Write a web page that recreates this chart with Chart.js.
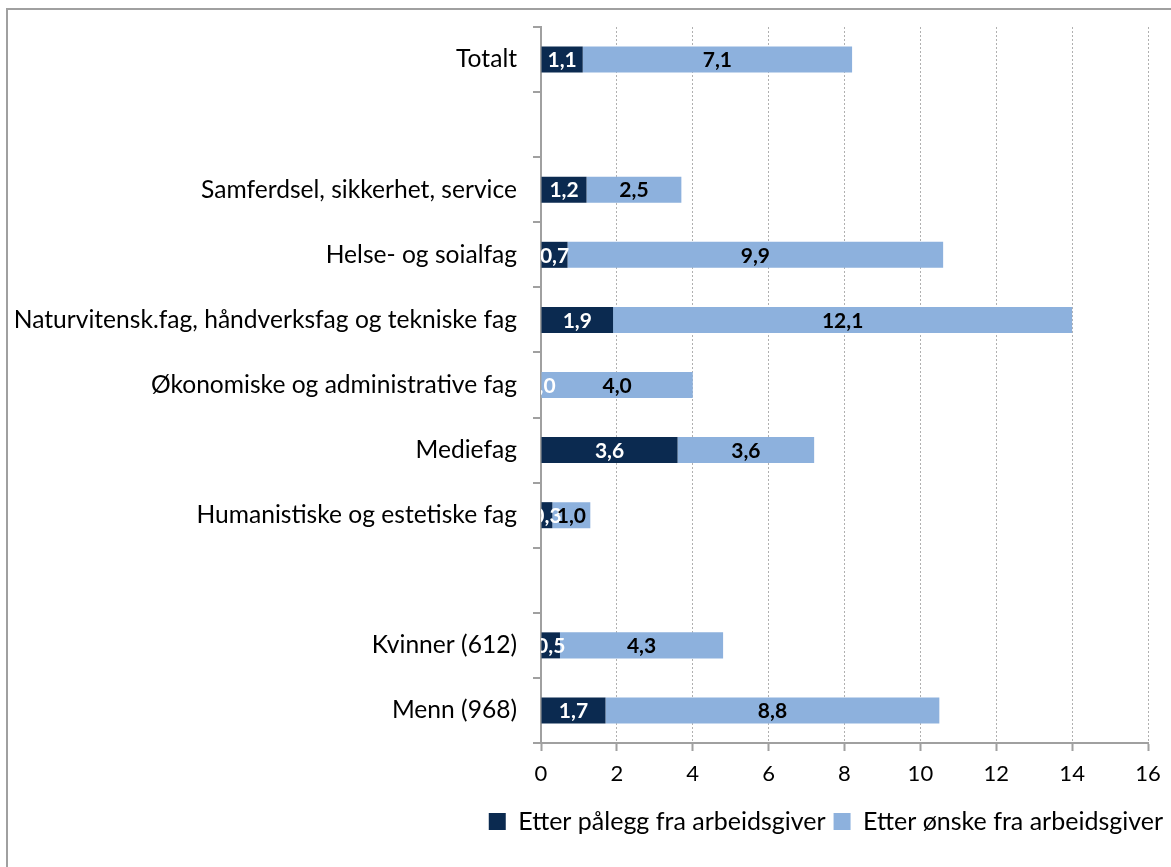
<!DOCTYPE html>
<html>
<head>
<meta charset="utf-8">
<script src="https://cdn.jsdelivr.net/npm/chart.js@4"></script>
<style>
  body { margin: 0; overflow: hidden; background: #fff; }
  #ramme { position: absolute; left: 6px; top: 8px; width: 1300px; height: 1000px; border: 2px solid #a0a0a0; }
  #boks { position: absolute; left: 0; top: 0; width: 1171px; height: 867px; }
</style>
</head>
<body>
<div id="ramme"></div>
<div id="boks"><canvas id="grafico"></canvas></div>
<script>
// kategorier (tomme rader gir mellomrom)
const kategorier = [
  "Totalt",
  "",
  "Samferdsel, sikkerhet, service",
  "Helse- og soialfag",
  "Naturvitensk.fag, håndverksfag og tekniske fag",
  "Økonomiske og administrative fag",
  "Mediefag",
  "Humanistiske og estetiske fag",
  " ",
  "Kvinner (612)",
  "Menn (968)"
];
const paalegg = [1.1, null, 1.2, 0.7, 1.9, 0.0, 3.6, 0.3, null, 0.5, 1.7];
const onske = [7.1, null, 2.5, 9.9, 12.1, 4.0, 3.6, 1.0, null, 4.3, 8.8];
const xTicks = [0, 2, 4, 6, 8, 10, 12, 14, 16];

const fontFamilie = "Lato, 'Open Sans', sans-serif";

// tegner verdiene midt i hvert segment
const verdiEtiketter = {
  id: "verdiEtiketter",
  afterDatasetsDraw(chart) {
    const ctx = chart.ctx;
    const area = chart.chartArea;
    ctx.save();
    ctx.beginPath();
    ctx.rect(area.left, area.top, area.right - area.left, area.bottom - area.top);
    ctx.clip();
    ctx.font = "bold 21px " + fontFamilie;
    ctx.textAlign = "center";
    ctx.textBaseline = "middle";
    chart.data.datasets.forEach((ds, i) => {
      const meta = chart.getDatasetMeta(i);
      meta.data.forEach((bar, j) => {
        const v = ds.data[j];
        if (v === null) return;
        const p = bar.getProps(["x", "y", "base"], true);
        ctx.fillStyle = ds.etikettFarge;
        ctx.fillText(v.toFixed(1).replace(".", ","), (p.x + p.base) / 2, p.y + 1);
      });
    });
    ctx.restore();
  }
};

const ctx = document.getElementById("grafico").getContext("2d");
new Chart(ctx, {
  type: "bar",
  data: {
    labels: kategorier,
    datasets: [
      {
        label: "Etter pålegg fra arbeidsgiver",
        data: paalegg,
        backgroundColor: "#0b2a50",
        etikettFarge: "#ffffff",
        barPercentage: 0.4,
        categoryPercentage: 1
      },
      {
        label: "Etter ønske fra arbeidsgiver",
        data: onske,
        backgroundColor: "#8db1dd",
        etikettFarge: "#000000",
        barPercentage: 0.4,
        categoryPercentage: 1
      }
    ]
  },
  options: {
    indexAxis: "y",
    responsive: true,
    maintainAspectRatio: false,
    animation: false,
    layout: { padding: { top: 27, right: 0, bottom: 23, left: 0 } },
    plugins: {
      tooltip: { enabled: false },
      legend: {
        position: "bottom",
        align: "end",
        labels: {
          boxWidth: 17,
          boxHeight: 17,
          padding: 8,
          color: "#000",
          font: { family: fontFamilie, size: 25 }
        }
      }
    },
    scales: {
      x: {
        stacked: true,
        min: 0,
        max: 16,
        afterBuildTicks(s) { s.ticks = xTicks.map(v => ({ value: v })); },
        afterFit(s) { s.height = 58; s.paddingRight = 23; },
        grid: { color: "#b0b0b0", lineWidth: 1, tickLength: 8, tickColor: "#a0a0a0", tickWidth: 2, tickBorderDash: [1, 0] },
        border: { display: true, color: "#a0a0a0", width: 2, dash: [2, 2] },
        ticks: { color: "#000", padding: 10, font: { family: fontFamilie, size: 22 } }
      },
      y: {
        stacked: true,
        afterFit(s) { s.width = 541; s.paddingTop = 0; s.paddingBottom = 0; },
        grid: { offset: true, drawOnChartArea: false, tickLength: 8, color: "#a0a0a0", lineWidth: 2 },
        border: { display: true, color: "#a0a0a0", width: 2 },
        ticks: { color: "#000", padding: 16, autoSkip: false, font: { family: fontFamilie, size: 24.6 } }
      }
    }
  },
  plugins: [verdiEtiketter]
});
</script>
</body>
</html>
